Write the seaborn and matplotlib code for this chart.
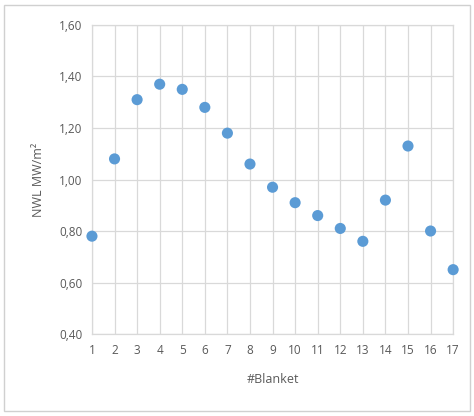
import matplotlib
matplotlib.use("Agg")
import matplotlib.pyplot as plt
import seaborn as sns
import pandas as pd
from matplotlib.patches import Rectangle
from matplotlib.ticker import FuncFormatter

# Dados
blankets = list(range(1, 18))
nwl = [0.78, 1.08, 1.31, 1.37, 1.35, 1.28, 1.18, 1.06, 0.97,
       0.91, 0.86, 0.81, 0.76, 0.92, 1.13, 0.80, 0.65]

df = pd.DataFrame({"blanket": blankets, "nwl": nwl})

sns.set_style("white")
plt.rcParams["font.family"] = ["Open Sans", "DejaVu Sans"]

fig = plt.figure(figsize=(4.74, 4.16), dpi=100)
ax = fig.add_axes([0.194, 0.197, 0.762, 0.743])

sns.scatterplot(data=df, x="blanket", y="nwl", ax=ax, color="#5B9BD5",
                s=64, edgecolor="none", zorder=3, clip_on=False)

ax.set_xlim(1, 17)
ax.set_ylim(0.40, 1.60)
ax.set_xticks(blankets)
ax.set_yticks([0.40, 0.60, 0.80, 1.00, 1.20, 1.40, 1.60])
ax.yaxis.set_major_formatter(FuncFormatter(lambda v, p: f"{v:.2f}".replace(".", ",")))

ax.grid(True, color="#d9d9d9", linewidth=0.9)
ax.set_axisbelow(True)
for s in ax.spines.values():
    s.set_color("#d9d9d9")
    s.set_linewidth(0.9)

ax.tick_params(axis="both", length=0, labelsize=8.5, colors="#595959", pad=7)
ax.set_xlabel("#Blanket", fontsize=9, color="#595959", labelpad=12)
ax.set_ylabel("NWL MW/m²", fontsize=9, color="#595959", labelpad=10)

# Moldura externa
fig.patches.append(Rectangle((0.008, 0.012), 0.984, 0.975, transform=fig.transFigure,
                             fill=False, edgecolor="#d0d0d0", linewidth=1))

fig.savefig("out.png", dpi=100)
